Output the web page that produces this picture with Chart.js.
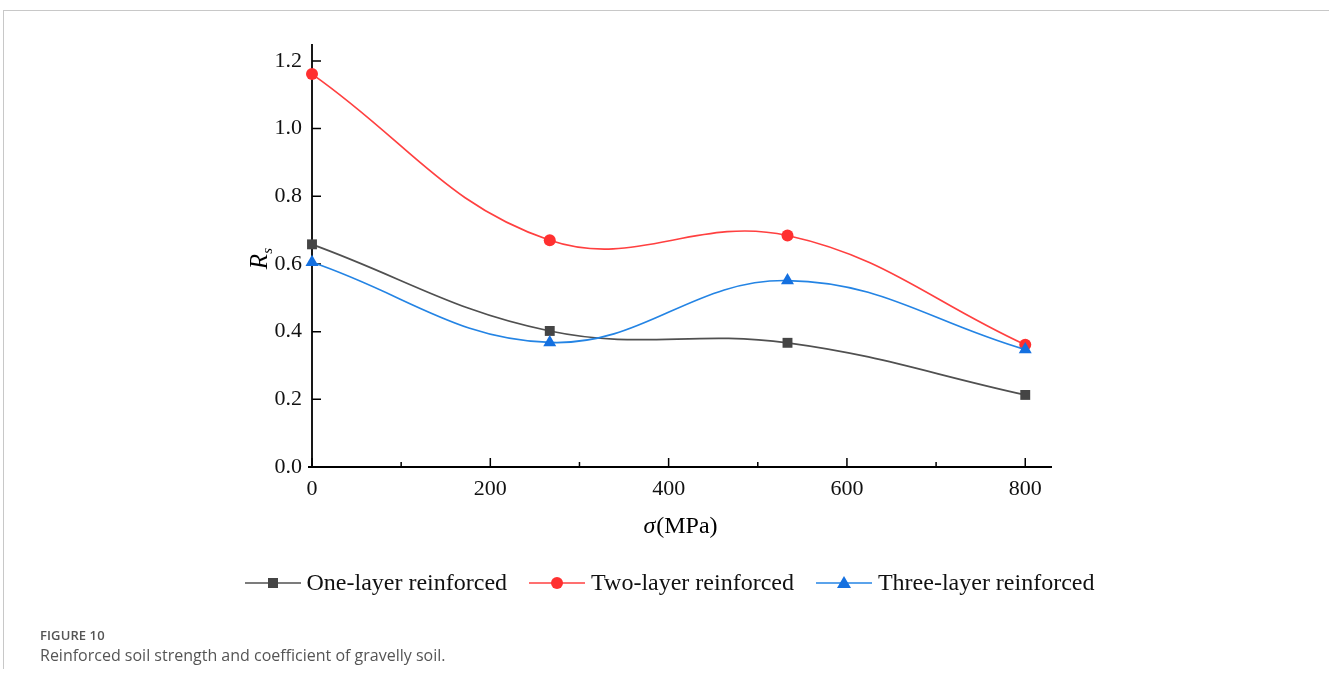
<!DOCTYPE html>
<html>
<head>
<meta charset="utf-8">
<script src="https://cdn.jsdelivr.net/npm/chart.js@4.4.1/dist/chart.umd.min.js"></script>
<style>
  html, body { margin: 0; padding: 0; background: #fff; }
  body { width: 1329px; height: 686px; position: relative; overflow: hidden; }
  #frame { position: absolute; left: 3px; top: 10px; width: 1340px; height: 658px;
           border-top: 1px solid #c8c8c8; border-left: 1px solid #c8c8c8; }
  #wrap { position: absolute; left: 0; top: 0; width: 1329px; height: 686px; }
  #legend { position: absolute; top: 569px; left: 5px; width: 1329px; text-align: center;
            font-family: "Liberation Serif", "Times New Roman", serif; font-size: 24px; color: #111; white-space: nowrap; }
  .li { display: inline-flex; align-items: center; margin: 0 11px; }
  .li svg { margin-right: 6px; }
  #caption { position: absolute; left: 40px; top: 626px; font-family: "Open Sans", "Noto Sans", sans-serif; color: #555; }
  #caption .t1 { font-size: 13px; font-weight: 600; letter-spacing: 0.1px; }
  #caption .t2 { font-size: 16px; margin-top: 0px; }
</style>
</head>
<body>
<div id="frame"></div>
<div id="wrap"><canvas id="c" width="1329" height="686"></canvas></div>
<div id="legend"></div>
<div id="caption"><div class="t1">FIGURE 10</div><div class="t2">Reinforced soil strength and coefficient of gravelly soil.</div></div>
<script>
// ---- Data ----
const stressValues = [0, 266.67, 533.33, 800];
const oneLayer   = [0.658, 0.402, 0.367, 0.213];
const twoLayer   = [1.161, 0.670, 0.684, 0.361];
const threeLayer = [0.605, 0.368, 0.551, 0.347];
const seriesNames = ["One-layer reinforced", "Two-layer reinforced", "Three-layer reinforced"];
const xTickValues = [0, 200, 400, 600, 800];
const xMinorTickValues = [100, 300, 500, 700];
const yTickValues = [0, 0.2, 0.4, 0.6, 0.8, 1.0, 1.2];

const lineColors = ["#505050", "#ff4040", "#2484e4"];
const markColors = ["#454545", "#ff3030", "#1470e0"];
const markStyles = ["rect", "circle", "triangle"];
const markRadius = [7, 6, 7.5];

function pts(ys) { return stressValues.map((x, i) => ({ x: x, y: ys[i] })); }
const allSeries = [oneLayer, twoLayer, threeLayer];

const datasets = allSeries.map((ys, i) => ({
  label: seriesNames[i],
  data: pts(ys),
  borderColor: lineColors[i],
  backgroundColor: markColors[i],
  pointBackgroundColor: markColors[i],
  pointBorderColor: markColors[i],
  pointBorderWidth: 0,
  pointStyle: markStyles[i],
  pointRadius: markRadius[i],
  borderWidth: 1.7,
  tension: 0.4,
  clip: false,
  order: i === 1 ? 3 : (i === 0 ? 2 : 1)
}));

const serif = "'Liberation Serif', 'Times New Roman', serif";

const axisPlugin = {
  id: 'axisDecor',
  beforeDatasetsDraw(chart) {
    const ctx = chart.ctx;
    const xs = chart.scales.x, ys = chart.scales.y;
    const a = chart.chartArea;
    ctx.save();
    ctx.strokeStyle = '#000';
    ctx.lineWidth = 1.8;
    ctx.beginPath();
    ctx.moveTo(a.left, a.top); ctx.lineTo(a.left, a.bottom);
    ctx.moveTo(a.left - 4, a.bottom); ctx.lineTo(a.right, a.bottom);
    ctx.stroke();
    ctx.lineWidth = 1.5;
    ctx.beginPath();
    xTickValues.forEach(v => { const p = xs.getPixelForValue(v); ctx.moveTo(p, a.bottom); ctx.lineTo(p, a.bottom - 9); });
    xMinorTickValues.forEach(v => { const p = xs.getPixelForValue(v); ctx.moveTo(p, a.bottom); ctx.lineTo(p, a.bottom - 5); });
    yTickValues.forEach(v => { const p = ys.getPixelForValue(v); ctx.moveTo(a.left, p); ctx.lineTo(a.left + 9, p); });
    ctx.stroke();
    ctx.restore();
  },
  afterDraw(chart) {
    const ctx = chart.ctx;
    const a = chart.chartArea;
    ctx.save();
    ctx.fillStyle = '#000';
    ctx.translate(259, (a.top + a.bottom) / 2 + 3);
    ctx.rotate(-Math.PI / 2);
    ctx.textBaseline = 'alphabetic';
    ctx.textAlign = 'left';
    ctx.font = "italic 25px " + serif;
    const rw = ctx.measureText('R').width;
    ctx.fillText('R', -rw / 2 - 3, 8);
    ctx.font = "italic 15px " + serif;
    ctx.fillText('s', rw / 2 - 3, 13);
    ctx.restore();
    ctx.save();
    ctx.fillStyle = '#000';
    ctx.textBaseline = 'alphabetic';
    ctx.font = "italic 24px " + serif;
    const s1 = 'σ';
    const w1 = ctx.measureText(s1).width;
    ctx.font = "24px " + serif;
    const s2 = '(MPa)';
    const w2 = ctx.measureText(s2).width;
    const cx = (a.left + a.right) / 2 - 2;
    const x0 = cx - (w1 + w2) / 2;
    ctx.font = "italic 24px " + serif;
    ctx.fillText(s1, x0, 533);
    ctx.font = "24px " + serif;
    ctx.fillText(s2, x0 + w1 + 1, 533);
    ctx.restore();
  }
};

new Chart(document.getElementById('c'), {
  type: 'line',
  data: { datasets: datasets },
  options: {
    responsive: false,
    animation: false,
    layout: { padding: { left: 232, right: 277, top: 44, bottom: 686 - 467 - 40 } },
    plugins: { legend: { display: false }, tooltip: { enabled: false } },
    scales: {
      x: {
        type: 'linear', min: 0, max: 830,
        afterFit(s) { s.height = 40; },
        afterBuildTicks(s) { s.ticks = xTickValues.map(v => ({ value: v })); },
        grid: { display: false, drawTicks: false },
        border: { display: false },
        ticks: { font: { family: serif, size: 22 }, color: '#111', padding: 9, maxRotation: 0,
                 callback: v => String(v) }
      },
      y: {
        type: 'linear', min: 0, max: 1.25,
        afterFit(s) { s.width = 80; },
        afterBuildTicks(s) { s.ticks = yTickValues.map(v => ({ value: v })); },
        grid: { display: false, drawTicks: false },
        border: { display: false },
        ticks: { font: { family: serif, size: 22 }, color: '#111', padding: 10,
                 callback: v => Number(v).toFixed(1) }
      }
    }
  },
  plugins: [axisPlugin]
});

// HTML legend
const leg = document.getElementById('legend');
seriesNames.forEach((name, i) => {
  const span = document.createElement('span');
  span.className = 'li';
  let mark = '';
  if (markStyles[i] === 'rect') mark = '<rect x="23" y="7" width="10" height="10" fill="' + markColors[i] + '"/>';
  else if (markStyles[i] === 'circle') mark = '<circle cx="28" cy="12" r="6" fill="' + markColors[i] + '"/>';
  else mark = '<polygon points="28,5 35,17 21,17" fill="' + markColors[i] + '"/>';
  span.innerHTML = '<svg width="56" height="24"><line x1="0" y1="12" x2="56" y2="12" stroke="' + lineColors[i] + '" stroke-width="1.7"/>' + mark + '</svg><span>' + name + '</span>';
  leg.appendChild(span);
});
</script>
</body>
</html>
